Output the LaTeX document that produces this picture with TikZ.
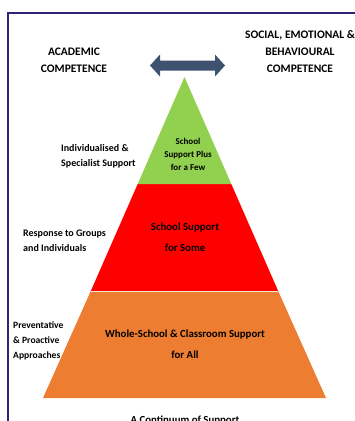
\documentclass[tikz,border=0pt]{standalone}
\usepackage{fontspec}
\setmainfont{Carlito}
\usetikzlibrary{arrows.meta,calc}
\definecolor{framecol}{HTML}{2E2478}
\definecolor{arrowcol}{HTML}{3E5270}
\definecolor{tiergreen}{HTML}{92D050}
\definecolor{tierred}{HTML}{FF0000}
\definecolor{tierorange}{HTML}{ED7D31}
\begin{document}
\begin{tikzpicture}[x=1pt,y=-1pt,
  lbl/.style={inner sep=0pt,font=\bfseries\fontsize{#1}{#1}\selectfont},
  hdr/.style={lbl=11.5,align=center},
  side/.style={lbl=10,align=left,anchor=west},
  tier/.style={lbl=#1,align=center},
  tier/.default=10.8]
\useasboundingbox (0,0) rectangle (355,421);
\fill[white] (0,0) rectangle (355,421);
% frame
\draw[framecol,line width=2pt] (8,425) -- (8,12.5) -- (360,12.5);
% pyramid
\coordinate (apex) at (184.5,77);
\coordinate (gl) at (137.7,184);
\coordinate (gr) at (231.3,184);
\coordinate (rl) at (90.6,291.5);
\coordinate (rr) at (278.4,291.5);
\coordinate (ol) at (43,398);
\coordinate (or) at (326,398);
\fill[tierorange] (rl) -- (rr) -- (or) -- (ol) -- cycle;
\fill[tierred] (gl) -- (gr) -- (rr) -- (rl) -- cycle;
\fill[tiergreen] (apex) -- (gr) -- (gl) -- cycle;
\draw[white!80!tierorange,line width=0.6pt] (rl) -- (rr);
% double arrow
\coordinate (al) at (150,65.5);
\coordinate (ar) at (225,65.5);
\fill[arrowcol] (al) -- ++(10,-11) -- ++(0,6) -- ($(ar)+(-10,-5)$) -- ++(0,-6) -- (ar) -- ++(-10,11) -- ++(0,-6) -- ($(al)+(10,5)$) -- ++(0,6) -- cycle;
% headers
\node[hdr] (acad) at (74,60.5) {ACADEMIC\\[5.5pt]COMPETENCE};
\node[hdr] (sebc) at (300,52) {SOCIAL, EMOTIONAL \&\\[5.5pt]BEHAVIOURAL\\[5.5pt]COMPETENCE};
% side labels
\node[side] (indiv) at (61,156.5) {Individualised \&\\[5pt]Specialist Support};
\node[side] (resp) at (23,240.5) {Response to Groups\\[5pt]and Individuals};
\node[side,lbl=9.6] (prev) at (13,341) {Preventative\\[5.4pt]\& Proactive\\[5.4pt]Approaches};
% tier labels
\node[tier=9] (t1) at (188,154) {School\\[4pt]Support Plus\\[4pt]for a Few};
\node[tier] (t2) at (185,237.5) {School Support\\[10.2pt]for Some};
\node[tier] (t3) at (185,344.5) {Whole-School \& Classroom Support\\[10.2pt]for All};
% caption
\node[lbl=10.8,anchor=base] (cap) at (185,423) {A Continuum of Support};
\end{tikzpicture}
\end{document}
